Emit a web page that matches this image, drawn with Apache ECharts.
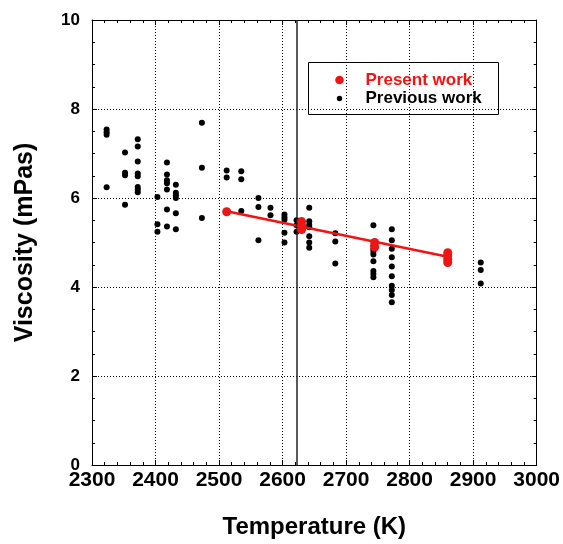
<!DOCTYPE html>
<html><head><meta charset="utf-8">
<script src="https://cdn.jsdelivr.net/npm/echarts@6/dist/echarts.min.js"></script>
<style>html,body{margin:0;padding:0;background:#fff}#c{width:563px;height:544px}</style>
</head><body><div id="c"></div>
<script>
// ---- data ----
const previousWork = [
  [2323,7.54],[2323,7.48],[2323,7.42],[2323,6.24],
  [2352,7.02],[2352,6.57],[2352,6.51],[2352,5.85],
  [2372,7.32],[2372,7.16],[2372,6.82],[2372,6.55],[2372,6.49],[2372,6.25],[2372,6.19],[2372,6.13],
  [2403,6.02],[2403,5.41],[2403,5.24],
  [2418,6.80],[2418,6.53],[2418,6.40],[2418,6.33],[2418,6.19],[2418,5.74],[2418,5.36],
  [2432,6.30],[2432,6.12],[2432,6.06],[2432,6.00],[2432,5.66],[2432,5.30],
  [2473,7.69],[2473,6.68],[2473,5.55],
  [2512,6.62],[2512,6.46],
  [2535,6.60],[2535,6.42],[2535,5.71],
  [2562,6.00],[2562,5.80],[2562,5.05],
  [2581,5.78],[2581,5.61],
  [2603,5.63],[2603,5.57],[2603,5.51],[2603,5.22],[2603,5.00],
  [2622,5.50],[2622,5.39],[2622,5.24],
  [2642,5.78],[2642,5.48],[2642,5.40],[2642,5.34],[2642,5.14],[2642,5.00],[2642,4.88],
  [2683,5.21],[2683,5.02],[2683,4.53],
  [2743,5.39],[2743,4.93],[2743,4.85],[2743,4.79],[2743,4.73],[2743,4.58],[2743,4.36],[2743,4.29],[2743,4.22],
  [2772,5.30],[2772,5.05],[2772,4.86],[2772,4.67],[2772,4.46],[2772,4.24],[2772,4.03],[2772,3.93],[2772,3.82],[2772,3.66],
  [2912,4.55],[2912,4.38],[2912,4.08]
];
const presentWork = [
  [2512,5.69],
  [2630,5.47],[2630,5.38],[2630,5.29],
  [2745,5.00],[2745,4.90],
  [2860,4.77],[2860,4.70],[2860,4.62],[2860,4.55]
];
const presentFit = [[2512,5.70],[2860,4.68]];
const meltingLineT = 2623;
const xRange = [2300, 3000], xStep = 100;
const yRange = [0, 10], yStep = 2;
const legendNames = ['Present work', 'Previous work'];

const FONT = "'Liberation Sans', Arial, sans-serif";
const RED = '#f01414';
const gridStyle = {show:true, lineStyle:{color:'#000', width:1, type:[1,2]}};
function axisCommon(extra){
  return Object.assign({
    type:'value',
    axisLine:{show:true, onZero:false, lineStyle:{color:'#000', width:1}},
    axisTick:{show:true, inside:true, length:5, lineStyle:{color:'#000', width:1}},
    minorTick:{show:true, length:3, lineStyle:{color:'#000', width:1}},
  }, extra);
}
const chart = echarts.init(document.getElementById('c'), null, {renderer:'canvas'});
chart.setOption({
  animation:false,
  backgroundColor:'#fff',
  grid:{left:92, top:20, width:445, height:445, containLabel:false},
  xAxis:[
    axisCommon({min:xRange[0], max:xRange[1], interval:xStep, position:'bottom',
      minorTick:{show:true, splitNumber:5, length:3, lineStyle:{color:'#000'}},
      splitLine:gridStyle,
      axisLabel:{color:'#000', fontFamily:FONT, fontWeight:'bold', fontSize:21, margin:5,
        formatter:function(v){return String(v);}},
      name:'Temperature (K)', nameLocation:'middle', nameGap:50,
      nameTextStyle:{color:'#000', fontFamily:FONT, fontWeight:'bold', fontSize:24}}),
    axisCommon({min:xRange[0], max:xRange[1], interval:xStep, position:'top',
      minorTick:{show:true, splitNumber:5, length:3, lineStyle:{color:'#000'}},
      splitLine:{show:false}, axisLabel:{show:false}})
  ],
  yAxis:[
    axisCommon({min:yRange[0], max:yRange[1], interval:yStep, position:'left',
      minorTick:{show:true, splitNumber:4, length:3, lineStyle:{color:'#000'}},
      splitLine:gridStyle,
      axisLabel:{color:'#000', fontFamily:FONT, fontWeight:'bold', fontSize:17, margin:12},
      name:'Viscosity (mPas)', nameLocation:'middle', nameGap:54,
      nameTextStyle:{color:'#000', fontFamily:FONT, fontWeight:'bold', fontSize:25}}),
    axisCommon({min:yRange[0], max:yRange[1], interval:yStep, position:'right',
      minorTick:{show:true, splitNumber:4, length:3, lineStyle:{color:'#000'}},
      splitLine:{show:false}, axisLabel:{show:false}})
  ],
  series:[
    {name:legendNames[1], type:'scatter', data:previousWork, symbol:'circle', symbolSize:6,
     itemStyle:{color:'#000', opacity:1}, z:3,
     markLine:{silent:true, symbol:'none', label:{show:false},
       lineStyle:{color:'#222', width:1.5, type:'solid'},
       data:[{xAxis:meltingLineT}]}},
    {name:'fit', type:'line', data:presentFit, showSymbol:false, symbol:'none',
     lineStyle:{color:RED, width:2.6}, z:4},
    {name:legendNames[0], type:'scatter', data:presentWork, symbol:'circle', symbolSize:9,
     itemStyle:{color:RED, opacity:1}, z:5}
  ],
  graphic:[
    {type:'group', left:308, top:62, z:100, children:[
      {type:'rect', shape:{x:0, y:0, width:190, height:52}, style:{fill:'#fff', stroke:'#000', lineWidth:1}},
      {type:'circle', shape:{cx:31, cy:17.5, r:4.3}, style:{fill:RED}},
      {type:'circle', shape:{cx:31, cy:36, r:2.7}, style:{fill:'#000'}},
      {type:'text', x:57, y:17.5, style:{text:legendNames[0], fill:RED, font:"bold 17px "+FONT, verticalAlign:'middle'}},
      {type:'text', x:57, y:36, style:{text:legendNames[1], fill:'#000', font:"bold 17px "+FONT, verticalAlign:'middle'}}
    ]}
  ]
});
</script></body></html>
